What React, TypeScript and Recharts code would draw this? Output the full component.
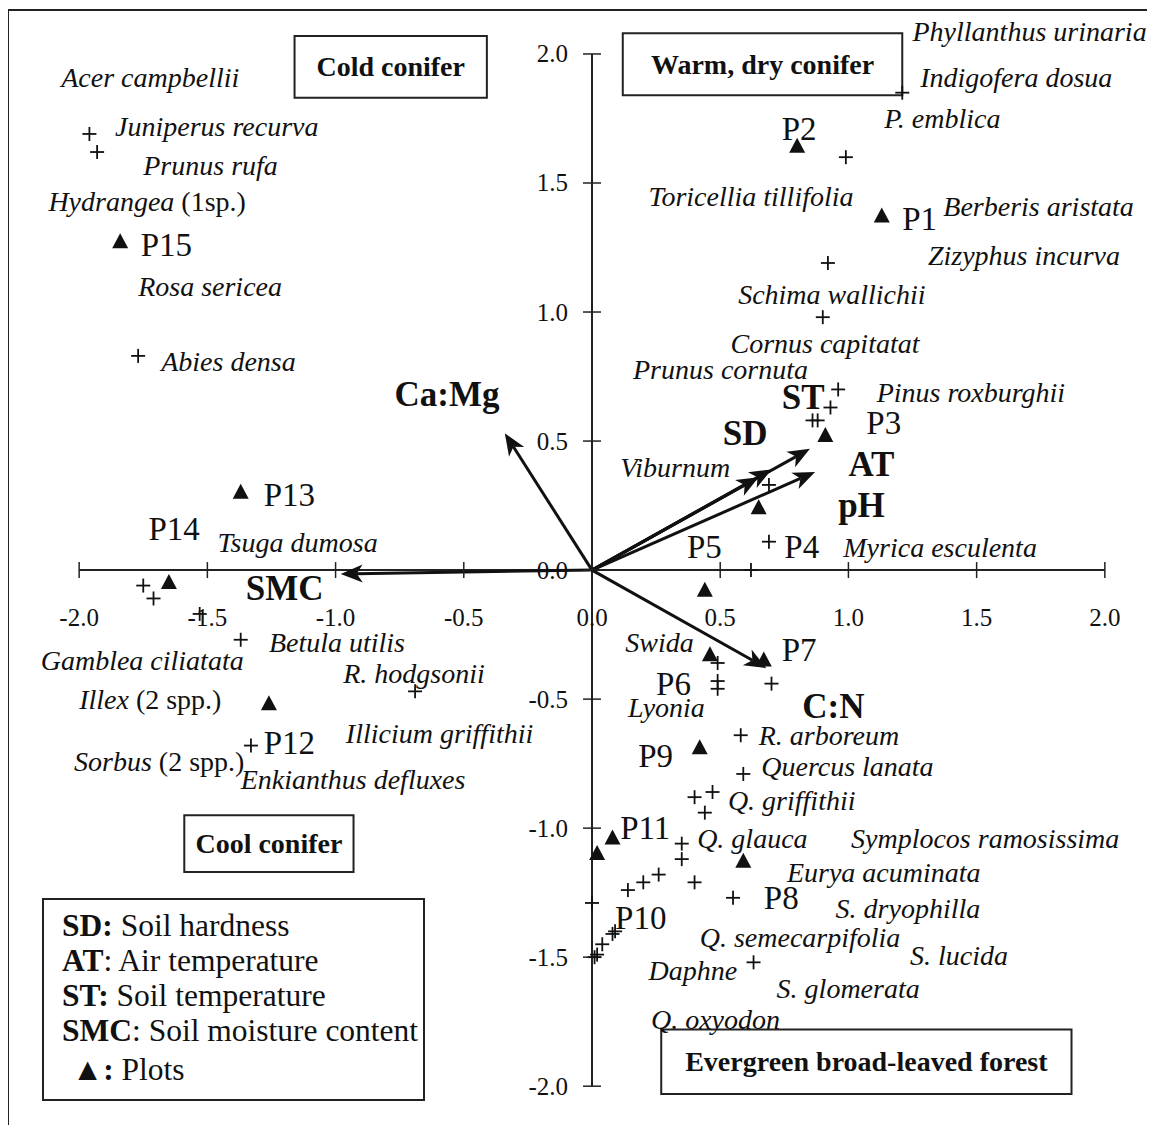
import React from "react";
import { ScatterChart, Scatter, XAxis, YAxis, ReferenceLine, ReferenceArea } from "recharts";

const FONT = '"Liberation Serif", "Times New Roman", Times, serif';

// axis ticks
const xTicks = [-2, -1.5, -1, -0.5, 0, 0.5, 1, 1.5, 2];
const yTicks = [-2, -1.5, -1, -0.5, 0, 0.5, 1, 1.5, 2];

// sample plots (triangles)
const plotNames = ["P1", "P2", "P3", "P4", "P5", "P6", "P7", "P8", "P9", "P10", "P11", "P12", "P13", "P14", "P15"];
const plotX = [1.13, 0.8, 0.91, 0.65, 0.44, 0.46, 0.67, 0.59, 0.42, 0.02, 0.08, -1.26, -1.37, -1.65, -1.84];
const plotY = [1.37, 1.64, 0.52, 0.24, -0.08, -0.33, -0.35, -1.13, -0.69, -1.1, -1.04, -0.52, 0.3, -0.05, 1.27];
const plotLabelX = [1.21, 0.74, 1.07, 0.75, 0.37, 0.25, 0.74, 0.67, 0.18, 0.09, 0.11, -1.28, -1.28, -1.73, -1.76];
const plotLabelY = [1.36, 1.71, 0.57, 0.09, 0.09, -0.44, -0.31, -1.27, -0.72, -1.35, -1.0, -0.67, 0.29, 0.16, 1.26];

// species scores (crosses)
const speciesX = [
  -1.96, -1.93, -1.77, -1.75, -1.71, -1.53, -1.37, -0.69, -1.33,
  1.21, 0.99, 0.92, 0.9, 0.96, 0.93, 0.88, 0.86, 0.69, 0.69, 0.62,
  0.49, 0.49, 0.49, 0.7, 0.58, 0.59,
  0.4, 0.47, 0.44, 0.35, 0.35, 0.4, 0.55, 0.26, 0.2, 0.14, 0.0, 0.09, 0.08, 0.04, 0.02, 0.01, 0.63,
];
const speciesY = [
  1.69, 1.62, 0.83, -0.06, -0.11, -0.17, -0.27, -0.47, -0.68,
  1.85, 1.6, 1.19, 0.98, 0.7, 0.63, 0.58, 0.58, 0.33, 0.11, 0.0,
  -0.36, -0.43, -0.46, -0.44, -0.64, -0.79,
  -0.88, -0.86, -0.94, -1.06, -1.12, -1.21, -1.27, -1.18, -1.21, -1.24, -1.29, -1.4, -1.41, -1.45, -1.49, -1.5, -1.52,
];

// species names
const speciesNames = [
  "Acer campbellii", "Juniperus recurva", "Prunus rufa", "Hydrangea (1sp.)", "Rosa sericea", "Abies densa",
  "Tsuga dumosa", "Betula utilis", "Gamblea ciliatata", "R. hodgsonii", "Illex (2 spp.)", "Illicium griffithii",
  "Sorbus (2 spp.)", "Enkianthus defluxes",
  "Phyllanthus urinaria", "Indigofera dosua", "P. emblica", "Toricellia tillifolia", "Berberis aristata",
  "Zizyphus incurva", "Schima wallichii", "Cornus capitatat", "Prunus cornuta", "Pinus roxburghii", "Viburnum",
  "Myrica esculenta", "Swida", "Lyonia", "R. arboreum", "Quercus lanata", "Q. griffithii", "Q. glauca",
  "Symplocos ramosissima", "Eurya acuminata", "S. dryophilla", "Q. semecarpifolia", "S. lucida", "Daphne",
  "S. glomerata", "Q. oxyodon",
];
const speciesLabelX = [
  -2.07, -1.86, -1.75, -2.12, -1.77, -1.68, -1.46, -1.26, -2.15, -0.97, -2.0, -0.96, -2.02, -1.37,
  1.25, 1.28, 1.14, 0.22, 1.37, 1.31, 0.57, 0.54, 0.16, 1.11, 0.11, 0.98, 0.13, 0.14, 0.65, 0.66, 0.53, 0.41,
  1.01, 0.76, 0.95, 0.42, 1.24, 0.22, 0.72, 0.23,
];
const speciesLabelY = [
  1.91, 1.72, 1.57, 1.43, 1.1, 0.81, 0.11, -0.28, -0.35, -0.4, -0.5, -0.63, -0.74, -0.81,
  2.09, 1.91, 1.75, 1.45, 1.41, 1.22, 1.07, 0.88, 0.78, 0.69, 0.4, 0.09, -0.28, -0.53, -0.64, -0.76, -0.89, -1.04,
  -1.04, -1.17, -1.31, -1.42, -1.49, -1.55, -1.62, -1.74,
];

// environmental vectors
const envNames = ["Ca:Mg", "SMC", "ST", "SD", "AT", "pH", "C:N"];
const envX = [-0.34, -0.98, 0.85, 0.7, 0.65, 0.87, 0.68];
const envY = [0.53, -0.015, 0.47, 0.39, 0.36, 0.38, -0.38];
const envLabelX = [-0.77, -1.35, 0.74, 0.51, 1.0, 0.96, 0.82];
const envLabelY = [0.68, -0.07, 0.67, 0.53, 0.41, 0.25, -0.53];

// vegetation type boxes
const zoneNames = ["Cold conifer", "Warm, dry conifer", "Cool conifer", "Evergreen broad-leaved forest"];
const zoneX1 = [-1.16, 0.12, -1.59, 0.27];
const zoneX2 = [-0.41, 1.21, -0.93, 1.87];
const zoneY1 = [1.83, 1.84, -1.17, -2.03];
const zoneY2 = [2.07, 2.08, -0.95, -1.78];

// legend
const legendCodes = ["SD:", "AT", "ST:", "SMC"];
const legendText = [" Soil hardness", ": Air temperature", " Soil temperature", ": Soil moisture content"];

const fmt = (v: number) => v.toFixed(1);

const xTickData = xTicks.map((v) => ({ x: v, y: 0, label: fmt(v) }));
const yTickData = yTicks.map((v) => ({ x: 0, y: v, label: fmt(v) }));
const plotData = plotNames.map((n, i) => ({ name: n, x: plotX[i], y: plotY[i] }));
const plotLabelData = plotNames.map((n, i) => ({ name: n, x: plotLabelX[i], y: plotLabelY[i] }));
const speciesData = speciesX.map((x, i) => ({ x, y: speciesY[i] }));
const speciesLabelData = speciesNames.map((n, i) => ({ name: n, x: speciesLabelX[i], y: speciesLabelY[i] }));
const envLabelData = envNames.map((n, i) => ({ name: n, x: envLabelX[i], y: envLabelY[i] }));

const XTick = (p: any) => (
  <g>
    <line x1={p.cx} y1={p.cy - 8} x2={p.cx} y2={p.cy + 8} stroke="#222" strokeWidth={1.5} />
    <text x={p.cx} y={p.cy + 47} textAnchor="middle" dominantBaseline="central" fontFamily={FONT} fontSize={25} fill="#111">
      {p.payload.label}
    </text>
  </g>
);

const YTick = (p: any) => (
  <g>
    <line x1={p.cx - 9} y1={p.cy} x2={p.cx + 9} y2={p.cy} stroke="#222" strokeWidth={1.5} />
    <text x={p.cx - 24} y={p.cy} textAnchor="end" dominantBaseline="central" fontFamily={FONT} fontSize={25} fill="#111">
      {p.payload.label}
    </text>
  </g>
);

const Triangle = (p: any) => (
  <polygon
    points={`${p.cx},${p.cy - 9} ${p.cx - 8},${p.cy + 6} ${p.cx + 8},${p.cy + 6}`}
    fill="#111"
  />
);

const Cross = (p: any) => (
  <g stroke="#111" strokeWidth={1.8}>
    <line x1={p.cx - 7} y1={p.cy} x2={p.cx + 7} y2={p.cy} />
    <line x1={p.cx} y1={p.cy - 7} x2={p.cx} y2={p.cy + 7} />
  </g>
);

const PlotLabel = (p: any) => (
  <text x={p.cx} y={p.cy} dominantBaseline="central" fontFamily={FONT} fontSize={33} fill="#111">
    {p.payload.name}
  </text>
);

const SpeciesLabel = (p: any) => {
  const name: string = p.payload.name;
  const k = name.indexOf(" (");
  const main = k >= 0 ? name.slice(0, k) : name;
  const rest = k >= 0 ? name.slice(k) : "";
  return (
    <text x={p.cx} y={p.cy} dominantBaseline="central" fontFamily={FONT} fontSize={28} fill="#111">
      <tspan fontStyle="italic">{main}</tspan>
      {rest && <tspan>{rest}</tspan>}
    </text>
  );
};

const EnvLabel = (p: any) => (
  <text x={p.cx} y={p.cy} dominantBaseline="central" fontFamily={FONT} fontSize={35} fontWeight="bold" fill="#111">
    {p.payload.name}
  </text>
);

const Arrow = (p: any) => {
  const { x1, y1, x2, y2 } = p;
  const dx = x2 - x1;
  const dy = y2 - y1;
  const len = Math.hypot(dx, dy) || 1;
  const ux = dx / len;
  const uy = dy / len;
  const hl = 22;
  const hw = 9;
  const bx = x2 - ux * hl;
  const by = y2 - uy * hl;
  const nx = x2 - ux * (hl - 6);
  const ny = y2 - uy * (hl - 6);
  return (
    <g>
      <line x1={x1} y1={y1} x2={nx} y2={ny} stroke="#111" strokeWidth={3} />
      <polygon
        points={`${x2},${y2} ${bx - uy * hw},${by + ux * hw} ${nx},${ny} ${bx + uy * hw},${by - ux * hw}`}
        fill="#111"
      />
    </g>
  );
};

const AxisLine = (p: any) => (
  <line x1={p.x1} y1={p.y1} x2={p.x2} y2={p.y2} stroke="#222" strokeWidth={2} />
);

const ZoneLabel = (name: string) => (p: any) => {
  const vb = p.viewBox;
  return (
    <text
      x={vb.x + vb.width / 2}
      y={vb.y + vb.height / 2}
      textAnchor="middle"
      dominantBaseline="central"
      fontFamily={FONT}
      fontSize={28}
      fontWeight="bold"
      fill="#111"
    >
      {name}
    </text>
  );
};

export default function App() {
  return (
    <div style={{ position: "relative", width: 1145, height: 1117, background: "#fff" }}>
      <div
        style={{
          position: "absolute",
          left: -1,
          top: 1,
          width: 1142,
          height: 1116,
          borderTop: "2px solid #222",
          borderLeft: "2px solid #222",
          borderRight: "2px solid #222",
        }}
      />
      <div style={{ position: "absolute", left: 0, top: 0 }}>
        <ScatterChart width={1145} height={1110} margin={{ top: 15, right: 2, bottom: 6, left: 25 }}>
          <XAxis type="number" dataKey="x" domain={[-2.18, 2.18]} hide />
          <YAxis type="number" dataKey="y" domain={[-2.1, 2.12]} hide />
          {zoneNames.map((n, i) => (
            <ReferenceArea
              key={n}
              x1={zoneX1[i]}
              x2={zoneX2[i]}
              y1={zoneY1[i]}
              y2={zoneY2[i]}
              fill="#fff"
              fillOpacity={1}
              stroke="#222"
              strokeWidth={2}
              ifOverflow="visible"
              label={ZoneLabel(n)}
            />
          ))}
          <ReferenceLine segment={[{ x: -2, y: 0 }, { x: 2, y: 0 }]} shape={AxisLine} ifOverflow="visible" />
          <ReferenceLine segment={[{ x: 0, y: -2 }, { x: 0, y: 2 }]} shape={AxisLine} ifOverflow="visible" />
          {envNames.map((n, i) => (
            <ReferenceLine
              key={n}
              segment={[{ x: 0, y: 0 }, { x: envX[i], y: envY[i] }]}
              shape={Arrow}
              ifOverflow="visible"
            />
          ))}
          <Scatter data={xTickData} shape={XTick} isAnimationActive={false} />
          <Scatter data={yTickData} shape={YTick} isAnimationActive={false} />
          <Scatter data={speciesData} shape={Cross} isAnimationActive={false} />
          <Scatter data={plotData} shape={Triangle} isAnimationActive={false} />
          <Scatter data={plotLabelData} shape={PlotLabel} isAnimationActive={false} />
          <Scatter data={speciesLabelData} shape={SpeciesLabel} isAnimationActive={false} />
          <Scatter data={envLabelData} shape={EnvLabel} isAnimationActive={false} />
        </ScatterChart>
      </div>
      <div
        style={{
          position: "absolute",
          left: 34,
          top: 890,
          width: 379,
          height: 199,
          border: "2px solid #222",
          background: "#fff",
          fontFamily: FONT,
          fontSize: 31.5,
          color: "#111",
          boxSizing: "content-box",
        }}
      >
        <div style={{ paddingLeft: 18, paddingTop: 8, lineHeight: "35px" }}>
          {legendCodes.map((c, i) => (
            <div key={c}>
              <b>{c}</b>
              {legendText[i]}
            </div>
          ))}
          <div style={{ marginTop: 4, paddingLeft: 10 }}>
            <b>▲:</b> Plots
          </div>
        </div>
      </div>
    </div>
  );
}
